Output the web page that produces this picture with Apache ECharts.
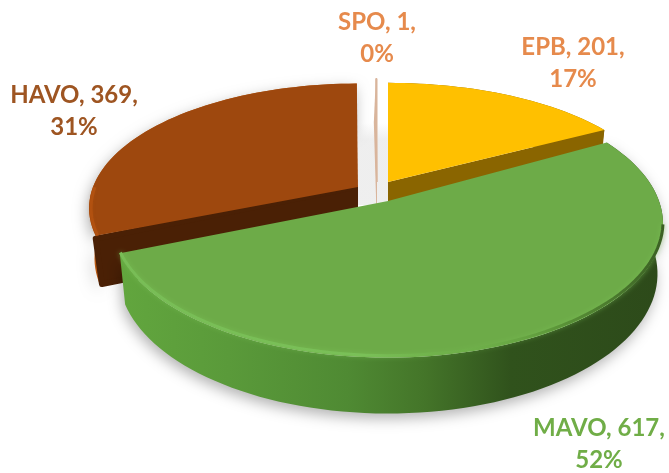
<!DOCTYPE html>
<html>
<head>
<meta charset="utf-8">
<script src="https://cdn.jsdelivr.net/npm/echarts@6/dist/echarts.min.js"></script>
<style>html,body{margin:0;padding:0;background:#fff}#c{width:669px;height:473px}</style>
</head>
<body>
<div id="c"></div>
<script>
// Data, in clockwise slice order starting at 12 o'clock
var categories = ['EPB', 'MAVO', 'HAVO', 'SPO'];
var values = [201, 617, 369, 1];

// Slice layout: apex of each exploded slice, and its radii on screen
var pieLayout = {
  EPB:  { apex: [388, 182], a: 268, b: 116, z2: 1 },
  MAVO: { apex: [388, 201], a: 271, b: 130, z2: 4 },
  HAVO: { apex: [358, 187], a: 265, b: 121, z2: 3 },
  SPO:  { apex: [377, 182], a: 266, b: 121, z2: 2 }
};
var perspective = 0.17, thickness = 49, lowerScale = 0.98;

var H = echarts.graphic.LinearGradient;
var pieStyle = {
  EPB:  { top: '#FFC000', wall: '#8A6500', face: '#8A6500', faces: [1] },
  MAVO: { top: '#6DAB48', faces: [],
          wall: new H(0, 0, 1, 0, [
            {offset: 0, color: '#62A63E'}, {offset: 0.2, color: '#5A9A3A'},
            {offset: 0.42, color: '#4F8A33'}, {offset: 0.56, color: '#447529'},
            {offset: 0.72, color: '#30521C'}, {offset: 1, color: '#2D4A1A'}]) },
  HAVO: { top: '#9E480E', face: '#4A2005', wall: '#BC5A12', faces: [0] },
  SPO:  { top: '#D9B59C', wall: '#D9B59C', face: '#D9B59C', faces: [0, 1] }
};
var labelStyle = {
  EPB:  { pos: [573, 63],  fill: '#E68A4C' },
  MAVO: { pos: [599, 444], fill: '#70AD47' },
  HAVO: { pos: [74, 111],  fill: '#9E5522' },
  SPO:  { pos: [377, 38],  fill: '#E68A4C' }
};

var total = values.reduce(function (s, v) { return s + v; }, 0);

function project(cfg, deg, lower) {
  var r = deg * Math.PI / 180, X = Math.sin(r), Y = Math.cos(r);
  var p = 1 / (1 + perspective * Y);
  var dx = cfg.a * X * p, dy = -cfg.b * Y * p;
  if (lower) { dx *= lowerScale; dy = dy * lowerScale + thickness * p; }
  return [cfg.apex[0] + dx, cfg.apex[1] + dy];
}
function arc(cfg, from, to, lower) {
  var pts = [], n = Math.max(1, Math.ceil(Math.abs(to - from) / 2));
  for (var i = 0; i <= n; i++) pts.push(project(cfg, from + (to - from) * i / n, lower));
  return pts;
}
function apexOf(cfg, lower) {
  return lower ? [cfg.apex[0], cfg.apex[1] + thickness] : cfg.apex.slice();
}

function renderSlice(params, api) {
  var i = params.dataIndex, name = categories[i], cfg = pieLayout[name], st = pieStyle[name], lab = labelStyle[name];
  var before = 0;
  for (var j = 0; j < i; j++) before += values[j];
  var v = api.value(0);
  var a0 = before / total * 360, a1 = (before + v) / total * 360;
  var z = cfg.z2, ch = [];

  // floor shade in the gap between exploded slices
  if (name === 'SPO') {
    var xl = pieLayout.HAVO.apex[0], xr = pieLayout.EPB.apex[0];
    ch.push({ type: 'rect', z2: 0, silent: true,
      shape: { x: xl, y: 123, width: xr - xl, height: 82 },
      style: { fill: new H(0, 0, 0, 1, [{offset: 0, color: 'rgba(230,230,230,0)'}, {offset: 0.2, color: 'rgba(230,230,230,0.65)'}, {offset: 1, color: 'rgba(236,236,236,0.85)'}]) } });
  }

  // outer wall
  var up = arc(cfg, a0, a1, false), lo = arc(cfg, a0, a1, true);
  var wallStyle = { fill: st.wall };
  if (name === 'MAVO' || name === 'HAVO') {
    wallStyle.shadowBlur = 14; wallStyle.shadowColor = 'rgba(0,0,0,0.3)'; wallStyle.shadowOffsetY = 5; wallStyle.shadowOffsetX = -2;
  }
  ch.push({ type: 'polygon', z2: z, shape: { points: up.concat(lo.slice().reverse()) }, style: wallStyle });

  // cut faces that turn towards the viewer
  var A = apexOf(cfg, false), B = apexOf(cfg, true), round = name === 'HAVO' ? 3 : 0;
  st.faces.forEach(function (k) {
    var u = k ? up[up.length - 1] : up[0], l = k ? lo[lo.length - 1] : lo[0];
    ch.push({ type: 'polygon', z2: z,
      shape: { points: [[A[0] - round, A[1]], [u[0], u[1] + round], [l[0] + round - 2, l[1] - round], [B[0] - round, B[1] - round]] },
      style: { fill: st.face, stroke: st.face, lineWidth: round * 2, lineJoin: 'round' } });
  });

  // top surface
  ch.push({ type: 'polygon', z2: z, shape: { points: [A].concat(up) },
    style: { fill: st.top, stroke: name === 'SPO' ? st.top : null, lineWidth: name === 'SPO' ? 1 : 0 } });

  // bevel highlights
  if (name === 'MAVO') {
    ch.push({ type: 'polyline', z2: z, silent: true, shape: { points: arc(cfg, a1 - 0.5, a0 + 40, false).map(function (p) { return [p[0], p[1] - 2]; }) },
      style: { fill: null, lineWidth: 3, shadowBlur: 5, shadowColor: 'rgba(125,196,88,0.6)',
        stroke: new H(0, 0, 1, 0, [
          {offset: 0, color: '#78BD56'}, {offset: 0.45, color: '#7AC058'}, {offset: 0.62, color: 'rgba(112,180,75,0.35)'},
          {offset: 0.8, color: '#5C9639'}, {offset: 1, color: '#3A5F23'}]) } });
  }
  if (name === 'HAVO') {
    ch.push({ type: 'polyline', z2: z, silent: true, shape: { points: arc(cfg, a0, a0 + 22, false).map(function (p) { return [p[0] + 2, p[1]]; }) },
      style: { fill: null, lineWidth: 3, stroke: 'rgba(190,88,18,0.55)', shadowBlur: 3, shadowColor: 'rgba(190,88,18,0.5)' } });
  }

  // data label
  ch.push({ type: 'text', z2: 10, style: {
    text: name + ', ' + v + ',\n' + Math.round(v / total * 100) + '%',
    x: lab.pos[0], y: lab.pos[1], fill: lab.fill, align: 'center', verticalAlign: 'middle',
    fontFamily: 'Lato', fontWeight: 'bold', fontSize: 24, lineHeight: 32 } });

  return { type: 'group', children: ch };
}

var chart = echarts.init(document.getElementById('c'), null, { renderer: 'canvas' });
chart.setOption({
  animation: false,
  backgroundColor: '#fff',
  series: [{
    type: 'custom',
    coordinateSystem: 'none',
    data: values.map(function (v, i) { return { name: categories[i], value: [v] }; }),
    renderItem: renderSlice
  }]
});
</script>
</body>
</html>
